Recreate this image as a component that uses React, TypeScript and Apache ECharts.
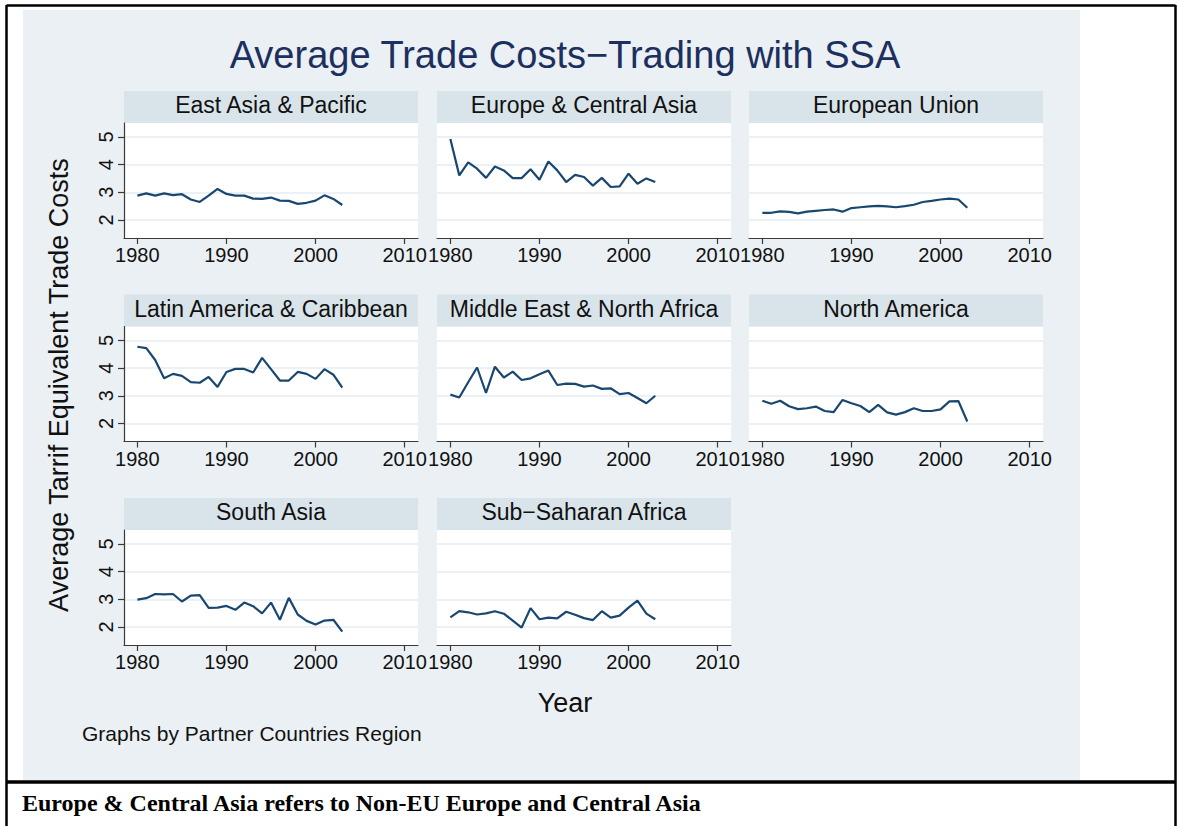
import React, { useEffect, useRef } from "react";
import * as echarts from "echarts";

const years = [1980, 1981, 1982, 1983, 1984, 1985, 1986, 1987, 1988, 1989, 1990, 1991, 1992, 1993, 1994, 1995, 1996, 1997, 1998, 1999, 2000, 2001, 2002, 2003];

const regionNames = [
  "East Asia & Pacific",
  "Europe & Central Asia",
  "European Union",
  "Latin America & Caribbean",
  "Middle East & North Africa",
  "North America",
  "South Asia",
  "Sub\u2212Saharan Africa",
];

const eastAsiaPacific = [2.88, 2.96, 2.88, 2.96, 2.9, 2.93, 2.74, 2.65, 2.88, 3.12, 2.94, 2.88, 2.88, 2.77, 2.76, 2.81, 2.7, 2.69, 2.58, 2.62, 2.7, 2.89, 2.76, 2.54];
const europeCentralAsia = [4.92, 3.61, 4.08, 3.85, 3.52, 3.93, 3.79, 3.51, 3.51, 3.83, 3.45, 4.11, 3.79, 3.37, 3.63, 3.55, 3.24, 3.52, 3.19, 3.21, 3.67, 3.31, 3.5, 3.37];
const europeanUnion = [2.26, 2.26, 2.31, 2.29, 2.24, 2.3, 2.33, 2.36, 2.38, 2.3, 2.43, 2.46, 2.49, 2.51, 2.49, 2.46, 2.5, 2.55, 2.65, 2.69, 2.74, 2.77, 2.74, 2.44];
const latinAmericaCaribbean = [4.77, 4.72, 4.29, 3.63, 3.79, 3.72, 3.49, 3.47, 3.68, 3.32, 3.86, 3.97, 3.97, 3.84, 4.37, 3.96, 3.55, 3.55, 3.86, 3.79, 3.61, 3.96, 3.76, 3.29];
const middleEastNorthAfrica = [3.04, 2.94, 3.49, 4.02, 3.1, 4.05, 3.66, 3.87, 3.57, 3.63, 3.78, 3.91, 3.39, 3.44, 3.43, 3.33, 3.37, 3.25, 3.27, 3.06, 3.1, 2.92, 2.73, 3.0];
const northAmerica = [2.82, 2.71, 2.82, 2.62, 2.52, 2.55, 2.61, 2.45, 2.41, 2.85, 2.73, 2.63, 2.41, 2.67, 2.4, 2.32, 2.41, 2.55, 2.45, 2.45, 2.51, 2.8, 2.81, 2.07];
const southAsia = [2.99, 3.04, 3.19, 3.18, 3.19, 2.92, 3.13, 3.15, 2.69, 2.7, 2.76, 2.62, 2.88, 2.75, 2.49, 2.88, 2.26, 3.05, 2.45, 2.22, 2.09, 2.23, 2.26, 1.83];
const subSaharanAfrica = [2.35, 2.57, 2.53, 2.45, 2.49, 2.57, 2.48, 2.23, 1.98, 2.68, 2.28, 2.34, 2.31, 2.55, 2.44, 2.32, 2.25, 2.57, 2.34, 2.41, 2.7, 2.95, 2.48, 2.28];

const seriesValues = [
  eastAsiaPacific,
  europeCentralAsia,
  europeanUnion,
  latinAmericaCaribbean,
  middleEastNorthAfrica,
  northAmerica,
  southAsia,
  subSaharanAfrica,
];

const xTicks = [1980, 1990, 2000, 2010];
const yTicks = [2, 3, 4, 5];

const FONT = "'Liberation Sans', Arial, Helvetica, sans-serif";
const LINE_COLOR = "#1a476f";
const GRID_LINE = "#e4ecf0";
const BG = "#eaf0f3";
const STRIP = "#d9e4ea";

const colLeft = [124, 437, 749];
const rowTop = [123, 326.5, 530];
const plotW = 294;
const plotH = 115;
const stripH = 32;

export default function App() {
  const ref = useRef<HTMLDivElement>(null);

  useEffect(() => {
    if (!ref.current) return;
    const chart = echarts.init(ref.current, undefined, { renderer: "svg" });

    const grids: any[] = [];
    const xAxes: any[] = [];
    const yAxes: any[] = [];
    const series: any[] = [];
    const graphics: any[] = [];

    graphics.push({
      type: "rect",
      z: -100,
      shape: { x: 23, y: 10, width: 1057, height: 770 },
      style: { fill: BG },
    });

    regionNames.forEach((name, i) => {
      const row = Math.floor(i / 3);
      const col = i % 3;
      const left = colLeft[col];
      const top = rowTop[row];
      grids.push({
        left,
        top,
        width: plotW,
        height: plotH,
        show: true,
        backgroundColor: "#ffffff",
        borderWidth: 0,
      });
      xAxes.push({
        gridIndex: i,
        type: "value",
        min: 1978.5,
        max: 2011.5,
        axisLine: { show: true, onZero: false, lineStyle: { color: "#3a3a3a", width: 1.2 } },
        axisTick: { show: true, length: 6, customValues: xTicks, lineStyle: { color: "#3a3a3a", width: 1.2 } },
        axisLabel: {
          show: true,
          customValues: xTicks,
          formatter: (v: number) => String(v),
          fontSize: 20,
          color: "#111",
          fontFamily: FONT,
          margin: 7,
        },
        splitLine: { show: false },
      });
      yAxes.push({
        gridIndex: i,
        type: "value",
        min: 1.35,
        max: 5.5,
        axisLine: { show: col === 0, lineStyle: { color: "#3a3a3a", width: 1.2 } },
        axisTick: { show: col === 0, length: 6, customValues: yTicks, lineStyle: { color: "#3a3a3a", width: 1.2 } },
        axisLabel: {
          show: col === 0,
          customValues: yTicks,
          formatter: (v: number) => String(v),
          rotate: 90,
          fontSize: 20,
          color: "#111",
          fontFamily: FONT,
          margin: 8,
        },
        splitLine: { show: true, lineStyle: { color: GRID_LINE, width: 1.5 } },
      });
      series.push({
        type: "line",
        name,
        xAxisIndex: i,
        yAxisIndex: i,
        data: years.map((y, k) => [y, seriesValues[i][k]]),
        showSymbol: false,
        symbol: "none",
        lineStyle: { color: LINE_COLOR, width: 2.2 },
        itemStyle: { color: LINE_COLOR },
        silent: true,
      });
      graphics.push({
        type: "rect",
        shape: { x: left, y: top - stripH, width: plotW, height: stripH },
        style: { fill: STRIP },
      });
      graphics.push({
        type: "text",
        x: left + plotW / 2,
        y: top - stripH / 2 - 2,
        style: {
          text: name,
          fill: "#111",
          font: `23px ${FONT}`,
          textAlign: "center",
          textVerticalAlign: "middle",
        },
      });
    });

    graphics.push(
      {
        type: "text",
        x: 565,
        y: 55,
        style: {
          text: "Average Trade Costs\u2212Trading with SSA",
          fill: "#1c2f5e",
          font: `38px ${FONT}`,
          textAlign: "center",
          textVerticalAlign: "middle",
        },
      },
      {
        type: "text",
        x: 59,
        y: 385,
        rotation: Math.PI / 2,
        style: {
          text: "Average Tarrif Equivalent Trade Costs",
          fill: "#111",
          font: `27px ${FONT}`,
          textAlign: "center",
          textVerticalAlign: "middle",
        },
      },
      {
        type: "text",
        x: 565,
        y: 703,
        style: {
          text: "Year",
          fill: "#111",
          font: `27px ${FONT}`,
          textAlign: "center",
          textVerticalAlign: "middle",
        },
      },
      {
        type: "text",
        x: 82,
        y: 733,
        style: {
          text: "Graphs by Partner Countries Region",
          fill: "#111",
          font: `21px ${FONT}`,
          textAlign: "left",
          textVerticalAlign: "middle",
        },
      },
      {
        type: "line",
        shape: { x1: 6.5, y1: 5.5, x2: 1175.5, y2: 5.5 },
        style: { stroke: "#000", lineWidth: 2.5 },
      },
      {
        type: "line",
        shape: { x1: 6.5, y1: 5, x2: 6.5, y2: 826 },
        style: { stroke: "#000", lineWidth: 2.5 },
      },
      {
        type: "line",
        shape: { x1: 1175.5, y1: 5, x2: 1175.5, y2: 826 },
        style: { stroke: "#000", lineWidth: 2.5 },
      },
      {
        type: "line",
        shape: { x1: 6.5, y1: 782, x2: 1175.5, y2: 782 },
        style: { stroke: "#000", lineWidth: 3.5 },
      },
      {
        type: "text",
        x: 22,
        y: 803,
        style: {
          text: "Europe & Central Asia refers to Non-EU Europe and Central Asia",
          fill: "#000",
          font: `bold 24px 'Liberation Serif', 'Times New Roman', serif`,
          textAlign: "left",
          textVerticalAlign: "middle",
        },
      }
    );

    chart.setOption({
      animation: false,
      backgroundColor: "#ffffff",
      grid: grids,
      xAxis: xAxes,
      yAxis: yAxes,
      series,
      graphic: { elements: graphics },
    });

    return () => {
      chart.dispose();
    };
  }, []);

  return (
    <div
      ref={ref}
      style={{ position: "fixed", left: 0, top: 0, width: 1179, height: 826 }}
    />
  );
}
